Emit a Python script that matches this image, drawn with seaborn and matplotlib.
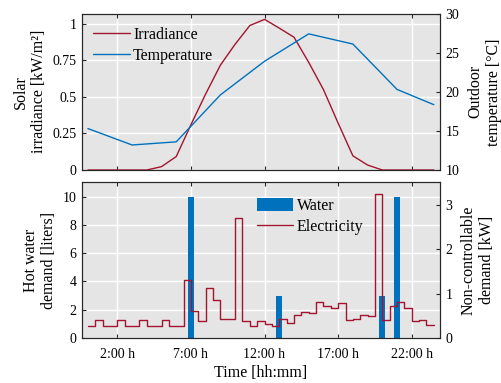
import numpy as np
import pandas as pd
import matplotlib
matplotlib.use('Agg')
import matplotlib.pyplot as plt
import seaborn as sns
from matplotlib.lines import Line2D
from matplotlib.patches import Patch

# ---- data ----
irr_hours = list(range(24)) + [23.5]
irradiance = [0, 0, 0, 0, 0, 0.023, 0.092, 0.31, 0.52, 0.717, 0.86, 0.988,
              1.03, 0.97, 0.908, 0.736, 0.55, 0.32, 0.097, 0.034, 0, 0, 0, 0, 0]

temp_hours = [0, 3, 6, 9, 12, 15, 18, 21, 23.5]
temperature = [15.3, 13.2, 13.6, 19.6, 23.9, 27.4, 26.1, 20.3, 18.35]

water_hours = [7, 13, 20, 21]
water_liters = [10, 3, 3, 10]

elec_hours = np.arange(48) * 0.5
elec_kw = [0.28, 0.40, 0.28, 0.28, 0.40, 0.28, 0.28, 0.40, 0.28, 0.28,
           0.40, 0.28, 0.28, 1.31, 0.61, 0.39, 1.12, 0.86, 0.43, 0.43,
           2.71, 0.38, 0.28, 0.39, 0.32, 0.26, 0.43, 0.34, 0.52, 0.58,
           0.57, 0.81, 0.73, 0.68, 0.79, 0.40, 0.43, 0.52, 0.49, 3.23,
           0.41, 0.71, 0.80, 0.68, 0.38, 0.40, 0.29, 0.29]

xtick_pos = [2, 7, 12, 17, 22]
xtick_labels = ['2:00 h', '7:00 h', '12:00 h', '17:00 h', '22:00 h']

red = '#A2142F'
blue = '#0072BD'
dark = '#262626'

sns.set_theme(style='darkgrid',
              rc={'axes.facecolor': '#e5e5e5',
                  'axes.edgecolor': dark,
                  'axes.linewidth': 0.8,
                  'grid.color': 'white',
                  'grid.linewidth': 1.0,
                  'text.color': 'black',
                  'axes.labelcolor': 'black',
                  'xtick.color': dark,
                  'ytick.color': dark,
                  'xtick.labelcolor': 'black',
                  'ytick.labelcolor': 'black'})
plt.rcParams['font.family'] = ['Liberation Serif', 'DejaVu Serif']

tick_fs = 10
lab_fs = 11.5

fig = plt.figure(figsize=(5.01, 3.83), dpi=100)
ax1 = fig.add_axes([0.1637, 0.5561, 0.7146, 0.4086])
ax3 = fig.add_axes([0.1637, 0.1175, 0.7146, 0.406], sharex=ax1)
ax2 = ax1.twinx()
ax4 = ax3.twinx()

# top: irradiance + temperature
sns.lineplot(x=irr_hours, y=irradiance, ax=ax1, color=red, lw=1, legend=False)
sns.lineplot(x=temp_hours, y=temperature, ax=ax2, color=blue, lw=1, legend=False)

# bottom: water bars + electricity steps
sns.barplot(x=water_hours, y=water_liters, ax=ax3, native_scale=True, width=0.4,
            color=blue, saturation=1, errorbar=None, linewidth=0)
sns.lineplot(x=elec_hours, y=elec_kw, ax=ax4, color=red, lw=1,
             drawstyle='steps-post', legend=False)

ax1.set_xlim(-0.4, 23.92)
ax1.set_ylim(0, 1.07)
ax2.set_ylim(10, 30)
ax3.set_ylim(0, 11)
ax4.set_ylim(0, 3.5)

ax1.set_yticks([0, 0.25, 0.5, 0.75, 1], ['0', '0.25', '0.5', '0.75', '1'])
ax2.set_yticks([10, 15, 20, 25, 30])
ax3.set_yticks([0, 2, 4, 6, 8, 10])
ax4.set_yticks([0, 1, 2, 3])
ax3.set_xticks(xtick_pos, xtick_labels)

for a in (ax1, ax3):
    a.tick_params(axis='x', direction='in', length=3, width=0.8, top=True,
                  bottom=True, labelsize=tick_fs, pad=7)
    a.tick_params(axis='y', direction='in', length=3, width=0.8, left=True,
                  right=False, labelsize=tick_fs, pad=4)
    a.grid(True, color='white', lw=1.0)
for a in (ax2, ax4):
    a.tick_params(axis='y', direction='in', length=3, width=0.8, right=True,
                  left=False, labelsize=tick_fs, pad=4)
    a.grid(False)
ax1.tick_params(axis='x', labelbottom=False)

ax1.set_ylabel('Solar\nirradiance [kW/m²]', fontsize=lab_fs)
ax2.set_ylabel('Outdoor\ntemperature [°C]', fontsize=lab_fs, labelpad=6)
ax3.set_ylabel('Hot water\ndemand [liters]', fontsize=lab_fs)
ax4.set_ylabel('Non-controllable\ndemand [kW]', fontsize=lab_fs, labelpad=6)
ax3.set_xlabel('Time [hh:mm]', fontsize=lab_fs, labelpad=3)

leg_kw = dict(frameon=False, fontsize=lab_fs, handlelength=2.3,
              handletextpad=0.2, labelspacing=0.3, borderpad=0,
              borderaxespad=0, loc='upper left')
ax2.legend([Line2D([], [], color=red, lw=1), Line2D([], [], color=blue, lw=1)],
           ['Irradiance', 'Temperature'], bbox_to_anchor=(0.031, 0.915), **leg_kw)
ax4.legend([Patch(facecolor=blue, lw=0), Line2D([], [], color=red, lw=1)],
           ['Water', 'Electricity'], bbox_to_anchor=(0.488, 0.9),
           handleheight=0.9, **leg_kw)

fig.savefig('out.png', dpi=100)
